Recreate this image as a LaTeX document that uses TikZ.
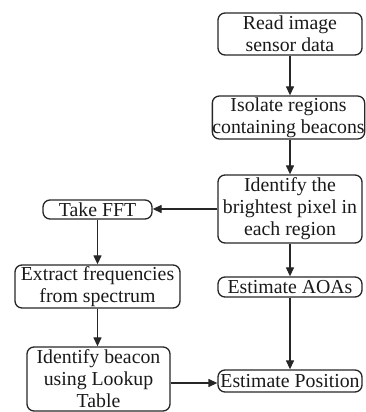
\documentclass[tikz,border=0pt]{standalone}
\usepackage{fontspec}
\setmainfont{Liberation Serif}
\usetikzlibrary{arrows.meta}

\begin{document}
\begin{tikzpicture}[x=1pt, y=1pt,
		box/.style={draw=black!85, line width=1.3pt, rounded corners=7pt, align=center, inner sep=0pt, text=black!90, font=\fontsize{19.8}{22}\selectfont},
		arr/.style={draw=black!85, line width=1.3pt, -{Triangle[length=9pt,width=8pt]}}]
		%%%%% START %%%%%
		
		\useasboundingbox (0, 0) rectangle (365, 412);
		
		% right column
		\node[box, minimum width=144, minimum height=42] (read) at (290, 378) {Read image\\sensor data};
		\node[box, minimum width=148, minimum height=43] (isolate) at (288.5, 294.5) {Isolate regions\\containing beacons};
		\node[box, minimum width=144, minimum height=68] (bright) at (290, 203) {Identify the\\brightest pixel in\\each region};
		\node[box, minimum width=144, minimum height=20] (aoa) at (290, 125) {Estimate AOAs};
		\node[box, minimum width=144, minimum height=22] (pos) at (290, 31) {Estimate Position};
		
		% left column
		\node[box, minimum width=109, minimum height=19] (fft) at (97.5, 202.5) {Take FFT};
		\node[box, minimum width=165, minimum height=43] (extract) at (97.5, 125.5) {Extract frequencies\\from spectrum};
		\node[box, minimum width=143, minimum height=64] (lookup) at (98.5, 33) {Identify beacon\\using Lookup\\Table};
		
		\draw[arr] (read) -- (isolate.north -| read);
		\draw[arr] (isolate.south -| read) -- (bright);
		\draw[arr] (bright) -- (aoa);
		\draw[arr] (aoa) -- (pos);
		\draw[arr] (bright.west) -- (fft.east |- bright.west);
		\draw[arr] (fft.south -| 97.5, 0) -- (extract.north -| 97.5, 0);
		\draw[arr] (extract) -- (lookup.north -| extract);
		\draw[arr] (lookup.east |- 0, 29) -- (pos.west |- 0, 29);
		
		%%%%% END %%%%%
	\end{tikzpicture}
\end{document}
